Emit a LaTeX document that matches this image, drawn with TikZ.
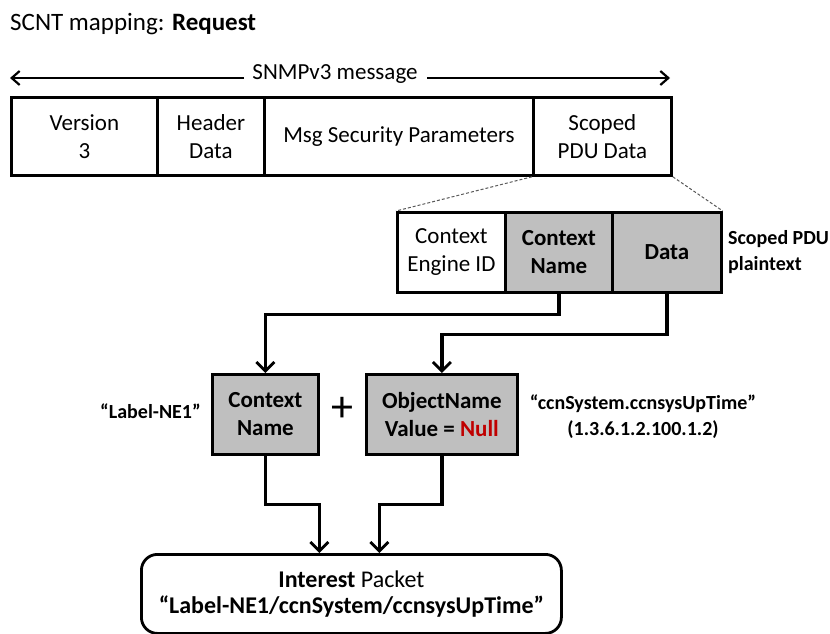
\documentclass[tikz,border=0pt]{standalone}
\usepackage{fontspec}
\setmainfont{Carlito}
\usetikzlibrary{arrows.meta,calc}
\definecolor{cellgray}{HTML}{BFBFBF}
\definecolor{nullred}{HTML}{C00000}
\begin{document}
\begin{tikzpicture}[x=1pt,y=-1pt,
  cell/.style={draw=black,line width=2.8pt,anchor=north west,inner sep=0pt,align=center,
     font=\fontsize{23}{28}\selectfont},
  gcell/.style={cell,fill=cellgray,font=\fontsize{23}{28}\selectfont\bfseries},
  conn/.style={line width=3.3pt,-{Straight Barb[length=9pt,width=18pt,line width=2.8pt]}},
  msgarr/.style={line width=2.4pt,-{Straight Barb[length=8pt,width=14pt,line width=2.2pt]}},
  dline/.style={dash pattern=on 3pt off 2pt,line width=1pt,draw=black!65},
  side/.style={font=\fontsize{20}{26}\selectfont\bfseries,inner sep=0pt},
]
\useasboundingbox (0,0) rectangle (830,634);
\node[anchor=base west,inner sep=0pt,font=\fontsize{25}{30}\selectfont] (title) at (10,31) {SCNT mapping: \textbf{Request}};

% SNMPv3 message arrow
\node[inner sep=0pt,font=\fontsize{23}{28}\selectfont] (msg) at (335,74) {SNMPv3 message};
\coordinate (msgLs) at (244,78);
\coordinate (msgRs) at (427,78);
\coordinate (msgL) at (10,78);
\coordinate (msgR) at (670,78);
\draw[msgarr] (msgLs) -- (msgL);
\draw[msgarr] (msgRs) -- (msgR);

% top message box
\node[cell,minimum width=146pt,minimum height=78pt] (ver) at (10,96) {Version\\3};
\node[cell,minimum width=107pt,minimum height=78pt] (hdr) at (156,96) {Header\\Data};
\node[cell,minimum width=269pt,minimum height=78pt] (msp) at (263,96) {Msg Security Parameters};
\node[cell,minimum width=138pt,minimum height=78pt] (spd) at (532,96) {Scoped\\PDU Data};

% scoped PDU box
\node[cell,minimum width=108pt,minimum height=80pt] (ceid) at (396,211) {Context\\Engine ID};
\node[gcell,minimum width=107pt,minimum height=80pt] (cname) at (504,211) {Context\\Name};
\node[gcell,minimum width=109pt,minimum height=80pt] (data) at (611,211) {Data};
\node[side,anchor=west,align=left] (spt) at (728,252) {Scoped PDU\\plaintext};

\draw[dline] (spd.south west) -- (ceid.north west);
\draw[dline] (spd.south east) -- (data.north east);

% middle boxes
\node[gcell,minimum width=106pt,minimum height=80pt] (ctx) at (211,373) {Context\\Name};
\node[gcell,minimum width=151pt,minimum height=80pt] (obj) at (365,373) {ObjectName\\Value = \textcolor{nullred}{Null}};
\node[inner sep=0pt,font=\fontsize{44}{44}\selectfont] (plus) at (342,409) {+};
\node[side,anchor=east] (lbl) at (201,411) {“Label-NE1”};
\node[side,align=center] (oid) at (643,417) {“ccnSystem.ccnsysUpTime”\\(1.3.6.1.2.100.1.2)};

\draw[conn] (cname.south) -- ++(0,21) -| (ctx.north);
\draw[conn] (data.south) -- ++(0,41) -| (obj.north);

% interest packet
\node[draw=black,line width=2.8pt,rounded corners=16pt,anchor=north west,minimum width=420pt,minimum height=79pt,
  align=center,inner sep=0pt,font=\fontsize{24}{26}\selectfont] (ip) at (140,553)
  {\textbf{Interest} Packet\\\textbf{“Label-NE1/ccnSystem/ccnsysUpTime”}};
\coordinate (ipL) at ($(ip.north)+(-32,0)$);
\coordinate (ipR) at ($(ip.north)+(28,0)$);
\draw[conn] (ctx.south) -- ++(0,49) -| (ipL);
\draw[conn] (obj.south) -- ++(0,49) -| (ipR);
\end{tikzpicture}
\end{document}
